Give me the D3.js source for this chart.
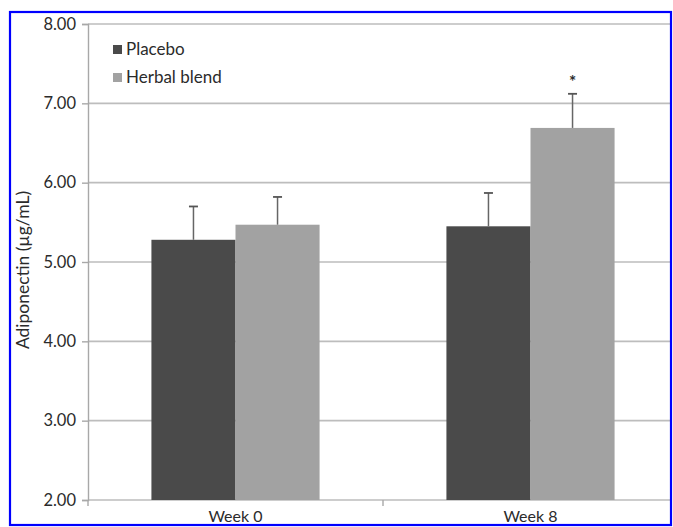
<!DOCTYPE html>
<html>
<head>
<meta charset="utf-8">
<script src="https://cdn.jsdelivr.net/npm/d3@7"></script>
<style>
  html, body { margin: 0; padding: 0; background: #fff; }
  svg { display: block; }
  text { font-family: Lato, "Open Sans", sans-serif; fill: #2b2b2b; }
</style>
</head>
<body>
<svg id="chart" width="673" height="527"></svg>
<script>
// Adiponectin by week and treatment group (mean with SD error bars)
const categories = ["Week 0", "Week 8"];
const seriesNames = ["Placebo", "Herbal blend"];
const placeboValues = [5.28, 5.45];
const herbalValues = [5.47, 6.69];
const placeboErrors = [0.42, 0.42];
const herbalErrors = [0.35, 0.43];
const significant = [false, true]; // herbal blend vs placebo
const yTicks = [2, 3, 4, 5, 6, 7, 8];
const yLabel = "Adiponectin (\u00b5g/mL)";

const seriesColors = ["#4a4a4a", "#a2a2a2"];

const svg = d3.select("#chart");

const plot = { left: 88, right: 678, top: 24, bottom: 500 };

// clip the drawing to the framed area
svg.append("defs").append("clipPath").attr("id", "frame")
  .append("rect").attr("x", 10).attr("y", 12).attr("width", 661).attr("height", 513);

const g = svg.append("g").attr("clip-path", "url(#frame)");

const y = d3.scaleLinear().domain([2, 8]).range([plot.bottom, plot.top]);
const x0 = d3.scaleBand().domain(categories).range([plot.left, plot.right])
  .paddingInner(0.43).paddingOuter(0.215);
const x1 = d3.scaleBand().domain(seriesNames).range([0, x0.bandwidth()]);

const rows = categories.map((c, i) => ({
  cat: c,
  bars: [
    { s: seriesNames[0], v: placeboValues[i], e: placeboErrors[i], sig: false },
    { s: seriesNames[1], v: herbalValues[i], e: herbalErrors[i], sig: significant[i] }
  ]
}));

// horizontal gridlines
g.append("g").selectAll("line").data(yTicks).join("line")
  .attr("x1", plot.left).attr("x2", plot.right)
  .attr("y1", d => y(d)).attr("y2", d => y(d))
  .attr("stroke", "#bdbdbd").attr("stroke-width", 1.6);

// y axis
const yAxis = g.append("g").attr("transform", `translate(${plot.left},0)`)
  .call(d3.axisLeft(y).tickValues(yTicks).tickFormat(d3.format(".2f")).tickSize(6).tickPadding(6));
yAxis.select(".domain").attr("stroke", "#a8a8a8").attr("stroke-width", 1.4);
yAxis.selectAll(".tick line").attr("stroke", "#a8a8a8").attr("stroke-width", 1.4);
yAxis.selectAll(".tick text").style("font-size", "16.5px").attr("fill", "#2b2b2b")
  .style("font-family", "Lato, sans-serif");

// x axis: ticks at category boundaries
const bounds = [plot.left, ...categories.map(c => x0(c) + x0.bandwidth() / 2 + x0.step() / 2)];
g.append("g").selectAll("line").data(bounds).join("line")
  .attr("x1", d => d).attr("x2", d => d)
  .attr("y1", plot.bottom).attr("y2", plot.bottom + 6)
  .attr("stroke", "#a8a8a8").attr("stroke-width", 1.4);

svg.append("g").selectAll("text").data(categories).join("text")
  .attr("x", d => x0(d) + x0.bandwidth() / 2)
  .attr("y", 521.5)
  .attr("text-anchor", "middle")
  .style("font-size", "16px")
  .text(d => d);

// bars
const groups = g.append("g").selectAll("g").data(rows).join("g")
  .attr("transform", d => `translate(${x0(d.cat)},0)`);

groups.selectAll("rect").data(d => d.bars).join("rect")
  .attr("x", d => x1(d.s))
  .attr("width", x1.bandwidth())
  .attr("y", d => y(d.v))
  .attr("height", d => y(2) - y(d.v))
  .attr("fill", (d, i) => seriesColors[i]);

// error bars (upper only)
const eb = groups.selectAll("g.err").data(d => d.bars).join("g").attr("class", "err");
eb.append("line")
  .attr("x1", d => x1(d.s) + x1.bandwidth() / 2)
  .attr("x2", d => x1(d.s) + x1.bandwidth() / 2)
  .attr("y1", d => y(d.v))
  .attr("y2", d => y(d.v + d.e))
  .attr("stroke", "#666").attr("stroke-width", 1.5);
eb.append("line")
  .attr("x1", d => x1(d.s) + x1.bandwidth() / 2 - 4.5)
  .attr("x2", d => x1(d.s) + x1.bandwidth() / 2 + 4.5)
  .attr("y1", d => y(d.v + d.e))
  .attr("y2", d => y(d.v + d.e))
  .attr("stroke", "#555").attr("stroke-width", 1.8);

// significance marker
eb.filter(d => d.sig).append("text")
  .attr("x", d => x1(d.s) + x1.bandwidth() / 2)
  .attr("y", d => y(d.v + d.e) - 6)
  .attr("text-anchor", "middle")
  .style("font-size", "17px")
  .style("font-weight", "bold")
  .text("*");

// y axis title
g.append("text")
  .attr("transform", `translate(29,${(plot.top + plot.bottom) / 2 + 8}) rotate(-90)`)
  .attr("text-anchor", "middle")
  .style("font-size", "17.5px")
  .text(yLabel);

// legend
const legend = g.append("g").attr("transform", "translate(113,45)");
const li = legend.selectAll("g").data(seriesNames).join("g")
  .attr("transform", (d, i) => `translate(0,${i * 28})`);
li.append("rect").attr("width", 9).attr("height", 9)
  .attr("fill", (d, i) => seriesColors[i]);
li.append("text").attr("x", 13).attr("y", 10)
  .style("font-size", "17px")
  .text(d => d);

// blue frame
svg.append("rect").attr("x", 10).attr("y", 12).attr("width", 661).attr("height", 513)
  .attr("fill", "none").attr("stroke", "#0000ff").attr("stroke-width", 2.2);
</script>
</body>
</html>
